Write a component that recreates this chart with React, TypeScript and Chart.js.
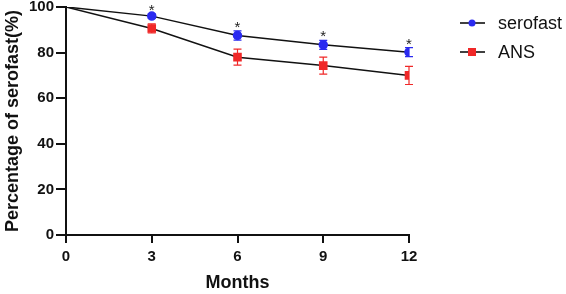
import React, { useEffect, useRef } from "react";
import { Chart, registerables } from "chart.js";

Chart.register(...registerables);

const months = [0, 3, 6, 9, 12];
const serofast = [100, 96, 87.5, 83.4, 80.2];
const serofastErr = [0, 1, 2, 2, 2];
const ans = [100, 90.6, 78, 74.3, 70];
const ansErr = [0, 2, 3.5, 3.7, 4];
const starMonths = [3, 6, 9, 12];
const seriesNames = ["serofast", "ANS"];

const BLUE = "#2b2bf0";
const RED = "#f02828";
const FONT = "Arial, 'Liberation Sans', sans-serif";

const extras = {
  id: "extras",
  afterDatasetsDraw(chart: any) {
    const ctx = chart.ctx;
    const xs = chart.scales.x;
    const ys = chart.scales.y;
    const drawErr = (vals: number[], errs: number[], color: string) => {
      ctx.save();
      ctx.strokeStyle = color;
      ctx.lineWidth = 1.2;
      months.forEach((m, i) => {
        if (!errs[i]) return;
        const x = xs.getPixelForValue(m);
        const y1 = ys.getPixelForValue(vals[i] + errs[i]);
        const y2 = ys.getPixelForValue(vals[i] - errs[i]);
        ctx.beginPath();
        ctx.moveTo(x, y1);
        ctx.lineTo(x, y2);
        ctx.moveTo(x - 4, y1);
        ctx.lineTo(x + 4, y1);
        ctx.moveTo(x - 4, y2);
        ctx.lineTo(x + 4, y2);
        ctx.stroke();
      });
      ctx.restore();
    };
    drawErr(ans, ansErr, RED);
    drawErr(serofast, serofastErr, BLUE);

    // asterisks
    ctx.save();
    ctx.fillStyle = "#222";
    ctx.font = `15px ${FONT}`;
    ctx.textAlign = "center";
    ctx.textBaseline = "alphabetic";
    starMonths.forEach((m) => {
      const i = months.indexOf(m);
      const x = xs.getPixelForValue(m);
      const y = ys.getPixelForValue(serofast[i] + serofastErr[i]);
      ctx.fillText("*", x, y + 1);
    });
    ctx.restore();

    // legend
    ctx.save();
    const lx0 = 460, lx1 = 485, mx = 472;
    const rows = [
      { name: seriesNames[0], color: BLUE, y: 23, shape: "circle" },
      { name: seriesNames[1], color: RED, y: 52, shape: "square" },
    ];
    rows.forEach((r) => {
      ctx.strokeStyle = "#000";
      ctx.lineWidth = 1.5;
      ctx.beginPath();
      ctx.moveTo(lx0, r.y);
      ctx.lineTo(lx1, r.y);
      ctx.stroke();
      ctx.fillStyle = r.color;
      if (r.shape === "circle") {
        ctx.beginPath();
        ctx.arc(mx, r.y, 3.5, 0, Math.PI * 2);
        ctx.fill();
      } else {
        ctx.fillRect(mx - 4, r.y - 4, 8, 8);
      }
      ctx.fillStyle = "#111";
      ctx.font = `18px ${FONT}`;
      ctx.textAlign = "left";
      ctx.textBaseline = "middle";
      ctx.fillText(r.name, 498, r.y + 1);
    });
    ctx.restore();
  },
};

export default function App() {
  const ref = useRef<HTMLCanvasElement>(null);
  useEffect(() => {
    const canvas = ref.current!;
    const chart = new Chart(canvas, {
      type: "line",
      data: {
        datasets: [
          {
            label: seriesNames[0],
            data: months.map((m, i) => ({ x: m, y: serofast[i] })),
            borderColor: "#111",
            borderWidth: 1.5,
            backgroundColor: BLUE,
            pointBackgroundColor: BLUE,
            pointBorderColor: BLUE,
            pointStyle: "circle",
            pointRadius: months.map((m) => (m === 0 ? 0 : 4)),
            tension: 0,
          },
          {
            label: seriesNames[1],
            data: months.map((m, i) => ({ x: m, y: ans[i] })),
            borderColor: "#111",
            borderWidth: 1.5,
            backgroundColor: RED,
            pointBackgroundColor: RED,
            pointBorderColor: RED,
            pointStyle: "rect",
            pointRadius: months.map((m) => (m === 0 ? 0 : 5)),
            tension: 0,
          },
        ],
      },
      options: {
        animation: false,
        responsive: false,
        maintainAspectRatio: false,
        layout: { padding: { top: 7, right: 157, left: 0, bottom: 0 } },
        plugins: { legend: { display: false }, tooltip: { enabled: false } },
        scales: {
          x: {
            type: "linear",
            min: 0,
            max: 12,
            afterFit: (s: any) => {
              s.height = 59;
              s.paddingLeft = 0;
              s.paddingRight = 0;
            },
            ticks: {
              stepSize: 3,
              color: "#111",
              font: { family: FONT, size: 15, weight: "bold" },
              padding: 5,
            },
            grid: {
              drawOnChartArea: false,
              drawTicks: true,
              tickLength: 8,
              color: "#111",
              lineWidth: 2,
            },
            border: { display: true, color: "#111", width: 2 },
            title: {
              display: true,
              text: "Months",
              color: "#111",
              font: { family: FONT, size: 18, weight: "bold" },
              padding: { top: 0, bottom: 0 },
            },
          },
          y: {
            min: 0,
            max: 100,
            afterFit: (s: any) => {
              s.width = 66;
              s.paddingTop = 0;
              s.paddingBottom = 0;
            },
            ticks: {
              stepSize: 20,
              color: "#111",
              font: { family: FONT, size: 15, weight: "bold" },
              padding: 2,
            },
            grid: {
              drawOnChartArea: false,
              drawTicks: true,
              tickLength: 10,
              color: "#111",
              lineWidth: 2,
            },
            border: { display: true, color: "#111", width: 2 },
            title: {
              display: true,
              text: "Percentage of serofast(%)",
              color: "#111",
              font: { family: FONT, size: 18, weight: "bold" },
              padding: { top: 2, bottom: 0 },
            },
          },
        },
      },
      plugins: [extras],
    } as any);
    return () => chart.destroy();
  }, []);
  return (
    <div style={{ position: "fixed", left: 0, top: 0, width: 566, height: 294, background: "#fff" }}>
      <canvas ref={ref} width={566} height={294} style={{ display: "block" }} />
    </div>
  );
}
